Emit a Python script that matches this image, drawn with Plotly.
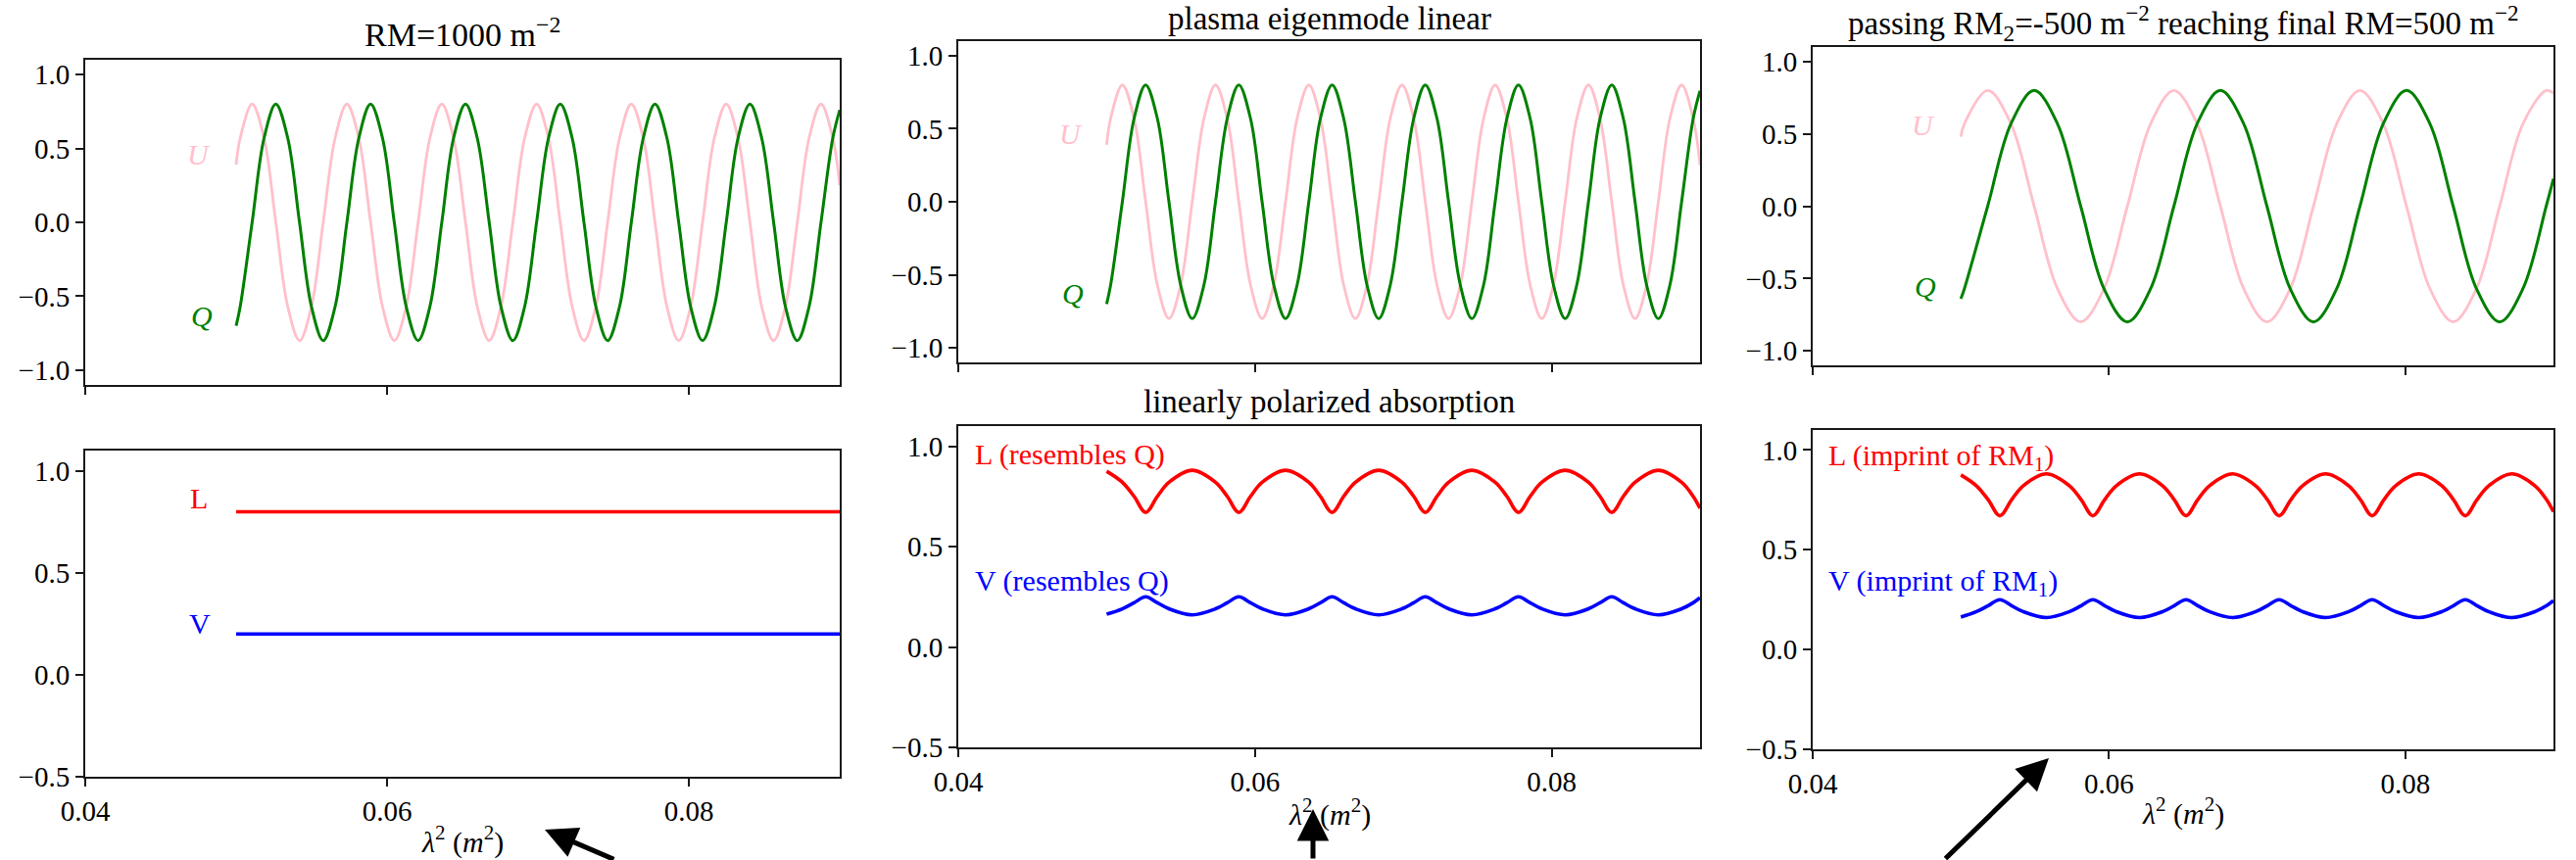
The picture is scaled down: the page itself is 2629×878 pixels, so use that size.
import plotly.graph_objects as go

# ---------------- data ----------------
# top panels, RM = 1000 (left and middle columns)
X_QU_RM1000 = [0.05, 0.05027,
               0.05106, 0.05185, 0.05263, 0.05342, 0.05420, 0.05499, 0.05577, 0.05656,
               0.05734, 0.05813, 0.05891, 0.05970, 0.06048, 0.06127, 0.06206, 0.06284,
               0.06363, 0.06441, 0.06520, 0.06598, 0.06677, 0.06755, 0.06834, 0.06912,
               0.06991, 0.07070, 0.07148, 0.07227, 0.07305, 0.07384, 0.07462, 0.07541,
               0.07619, 0.07698, 0.07776, 0.07855, 0.07933, 0.08012, 0.08091, 0.08169,
               0.08248, 0.08326, 0.08405, 0.08483, 0.08562, 0.08640, 0.08719, 0.08797,
               0.08876, 0.08954, 0.09]
Q_RM1000 = [-0.70, -0.57,
            0.0, 0.57, 0.80, 0.57, 0.0, -0.57, -0.80, -0.57,
            0.0, 0.57, 0.80, 0.57, 0.0, -0.57, -0.80, -0.57,
            0.0, 0.57, 0.80, 0.57, 0.0, -0.57, -0.80, -0.57,
            0.0, 0.57, 0.80, 0.57, 0.0, -0.57, -0.80, -0.57,
            0.0, 0.57, 0.80, 0.57, 0.0, -0.57, -0.80, -0.57,
            0.0, 0.57, 0.80, 0.57, 0.0, -0.57, -0.80, -0.57,
            0.0, 0.57, 0.76]
U_RM1000 = [0.39, 0.57,
            0.80, 0.57, 0.0, -0.57, -0.80, -0.57, 0.0, 0.57,
            0.80, 0.57, 0.0, -0.57, -0.80, -0.57, 0.0, 0.57,
            0.80, 0.57, 0.0, -0.57, -0.80, -0.57, 0.0, 0.57,
            0.80, 0.57, 0.0, -0.57, -0.80, -0.57, 0.0, 0.57,
            0.80, 0.57, 0.0, -0.57, -0.80, -0.57, 0.0, 0.57,
            0.80, 0.57, 0.0, -0.57, -0.80, -0.57, 0.0, 0.57,
            0.80, 0.57, 0.25]

# top panel, right column (final RM = 500)
X_QU_RM500 = [0.05, 0.05024,
              0.05181, 0.05338, 0.05495, 0.05652, 0.05809, 0.05966, 0.06124, 0.06281,
              0.06438, 0.06595, 0.06752, 0.06909, 0.07066, 0.07223, 0.07380, 0.07537,
              0.07694, 0.07851, 0.08008, 0.08166, 0.08323, 0.08480, 0.08637, 0.08794,
              0.08951, 0.09]
Q_RM500 = [-0.64, -0.57,
           0.0, 0.57, 0.80, 0.57, 0.0, -0.57, -0.80, -0.57,
           0.0, 0.57, 0.80, 0.57, 0.0, -0.57, -0.80, -0.57,
           0.0, 0.57, 0.80, 0.57, 0.0, -0.57, -0.80, -0.57,
           0.0, 0.19]
U_RM500 = [0.48, 0.57,
           0.80, 0.57, 0.0, -0.57, -0.80, -0.57, 0.0, 0.57,
           0.80, 0.57, 0.0, -0.57, -0.80, -0.57, 0.0, 0.57,
           0.80, 0.57, 0.0, -0.57, -0.80, -0.57, 0.0, 0.57,
           0.80, 0.78]

# bottom-left panel: constant L and V
X_LV_FLAT = [0.05, 0.09]
L_FLAT = [0.80, 0.80]
V_FLAT = [0.20, 0.20]

# bottom middle / right panels: modulated L and V
X_LV_WAVE = [0.05,
             0.05106, 0.05185, 0.05263, 0.05342, 0.05420, 0.05577,
             0.05734, 0.05813, 0.05891, 0.05970, 0.06048, 0.06206,
             0.06363, 0.06441, 0.06520, 0.06598, 0.06677, 0.06834,
             0.06991, 0.07070, 0.07148, 0.07227, 0.07305, 0.07462,
             0.07619, 0.07698, 0.07776, 0.07855, 0.07933, 0.08091,
             0.08248, 0.08326, 0.08405, 0.08483, 0.08562, 0.08719,
             0.08876, 0.08954, 0.09]
L_WAVE = [0.875,
          0.82, 0.75, 0.67, 0.75, 0.82, 0.88,
          0.82, 0.75, 0.67, 0.75, 0.82, 0.88,
          0.82, 0.75, 0.67, 0.75, 0.82, 0.88,
          0.82, 0.75, 0.67, 0.75, 0.82, 0.88,
          0.82, 0.75, 0.67, 0.75, 0.82, 0.88,
          0.82, 0.75, 0.67, 0.75, 0.82, 0.88,
          0.82, 0.75, 0.69]
V_WAVE = [0.163,
          0.19, 0.22, 0.25, 0.22, 0.19, 0.16,
          0.19, 0.22, 0.25, 0.22, 0.19, 0.16,
          0.19, 0.22, 0.25, 0.22, 0.19, 0.16,
          0.19, 0.22, 0.25, 0.22, 0.19, 0.16,
          0.19, 0.22, 0.25, 0.22, 0.19, 0.16,
          0.19, 0.22, 0.25, 0.22, 0.19, 0.16,
          0.19, 0.22, 0.245]

X_RANGE = [0.04, 0.09]
X_TICKS = [0.04, 0.06, 0.08]
X_TICK_LABELS = ["0.04", "0.06", "0.08"]
Y_RANGE_TOP = [-1.1, 1.1]
Y_TICKS_TOP = [-1.0, -0.5, 0.0, 0.5, 1.0]
Y_TICK_LABELS_TOP = ["\u22121.0", "\u22120.5", "0.0", "0.5", "1.0"]
Y_RANGE_BOT = [-0.5, 1.1]
Y_TICKS_BOT = [-0.5, 0.0, 0.5, 1.0]
Y_TICK_LABELS_BOT = ["\u22120.5", "0.0", "0.5", "1.0"]

# ---------------- styling ----------------
W, H = 2629, 878
FONT = "Liberation Serif, Times New Roman, serif"
TICK_SIZE = 29
TEXT_SIZE = 30
TITLE_SIZE = 33
C_Q, C_U, C_L, C_V = "#008000", "#FFC0CB", "#FF0000", "#0000FF"


def px_x(p):
    return p / W


def px_y(p):
    return 1 - p / H


# axes boxes in pixels: (left, right, top, bottom)
BOXES = {
    1: (87, 857, 61, 393),
    2: (87, 857, 460, 793),
    3: (978, 1735, 42, 370),
    4: (978, 1735, 435, 763),
    5: (1850, 2606, 48, 373),
    6: (1850, 2606, 439, 765),
}

fig = go.Figure()


def add_line(n, x, y, color, width):
    fig.add_trace(go.Scatter(
        x=x, y=y, mode="lines",
        line=dict(color=color, width=width, shape="spline", smoothing=1.0),
        xaxis="x" if n == 1 else f"x{n}",
        yaxis="y" if n == 1 else f"y{n}",
        showlegend=False, hoverinfo="skip"))


add_line(1, X_QU_RM1000, U_RM1000, C_U, 2.8)
add_line(1, X_QU_RM1000, Q_RM1000, C_Q, 3.0)
add_line(2, X_LV_FLAT, L_FLAT, C_L, 3.6)
add_line(2, X_LV_FLAT, V_FLAT, C_V, 3.6)
add_line(3, X_QU_RM1000, U_RM1000, C_U, 2.8)
add_line(3, X_QU_RM1000, Q_RM1000, C_Q, 3.0)
add_line(4, X_LV_WAVE, L_WAVE, C_L, 3.6)
add_line(4, X_LV_WAVE, V_WAVE, C_V, 3.6)
add_line(5, X_QU_RM500, U_RM500, C_U, 2.8)
add_line(5, X_QU_RM500, Q_RM500, C_Q, 3.0)
add_line(6, X_LV_WAVE, L_WAVE, C_L, 3.6)
add_line(6, X_LV_WAVE, V_WAVE, C_V, 3.6)

layout = dict(
    width=W, height=H,
    margin=dict(l=0, r=0, t=0, b=0, pad=0, autoexpand=False),
    paper_bgcolor="white", plot_bgcolor="white",
    font=dict(family=FONT, color="black"),
    showlegend=False,
)

AX_COMMON = dict(showline=True, mirror=True, linecolor="#1a1a1a", linewidth=2,
                 ticks="outside", ticklen=8, tickwidth=2, tickcolor="#1a1a1a",
                 showgrid=False, zeroline=False, automargin=False,
                 tickfont=dict(family=FONT, size=TICK_SIZE, color="black"))

for n, (l, r, t, b) in BOXES.items():
    xa = "xaxis" if n == 1 else f"xaxis{n}"
    ya = "yaxis" if n == 1 else f"yaxis{n}"
    top = n in (1, 3, 5)
    layout[xa] = dict(AX_COMMON, domain=[px_x(l), px_x(r)], range=X_RANGE,
                      tickvals=X_TICKS, ticktext=X_TICK_LABELS,
                      showticklabels=not top,
                      anchor="y" if n == 1 else f"y{n}")
    layout[ya] = dict(AX_COMMON, domain=[px_y(b), px_y(t)],
                      range=Y_RANGE_TOP if top else Y_RANGE_BOT,
                      tickvals=Y_TICKS_TOP if top else Y_TICKS_BOT,
                      ticktext=Y_TICK_LABELS_TOP if top else Y_TICK_LABELS_BOT,
                      anchor="x" if n == 1 else f"x{n}")

fig.update_layout(**layout)

ann = []


def data_text(n, x, y, text, color, xanchor="center"):
    ann.append(dict(x=x, y=y, xref="x" if n == 1 else f"x{n}",
                    yref="y" if n == 1 else f"y{n}", text=text, showarrow=False,
                    xanchor=xanchor, yanchor="middle",
                    font=dict(family=FONT, size=TEXT_SIZE, color=color)))


def paper_text(xp, yp, text, size):
    ann.append(dict(x=px_x(xp), y=px_y(yp), xref="paper", yref="paper", text=text,
                    showarrow=False, xanchor="center", yanchor="middle",
                    font=dict(family=FONT, size=size, color="black")))


# curve labels
data_text(1, 0.0475, 0.46, "<i>U</i>", C_U)
data_text(1, 0.0477, -0.63, "<i>Q</i>", C_Q)
data_text(2, 0.0475, 0.865, "L", C_L)
data_text(2, 0.0476, 0.25, "V", C_V)
data_text(3, 0.0476, 0.463, "<i>U</i>", C_U)
data_text(3, 0.0477, -0.63, "<i>Q</i>", C_Q)
data_text(4, 0.0410, 0.958, "L (resembles Q)", C_L, "left")
data_text(4, 0.0410, 0.33, "V (resembles Q)", C_V, "left")
data_text(5, 0.0475, 0.56, "<i>U</i>", C_U)
data_text(5, 0.0476, -0.554, "<i>Q</i>", C_Q)
data_text(6, 0.0409, 0.965, "L (imprint of RM<sub>1</sub>)", C_L, "left")
data_text(6, 0.0409, 0.335, "V (imprint of RM<sub>1</sub>)", C_V, "left")

# titles
paper_text(472, 33, "RM=1000 m<sup>\u22122</sup>", TITLE_SIZE + 1)
paper_text(1356.5, 19, "plasma eigenmode linear", TITLE_SIZE)
paper_text(1356.5, 410, "linearly polarized absorption", TITLE_SIZE)
paper_text(2228, 23.5, "passing RM<sub>2</sub>=-500 m<sup>\u22122</sup> reaching final RM=500 m<sup>\u22122</sup>", TITLE_SIZE)

# x-axis labels
XLAB = "<i>\u03bb</i><sup>2</sup> (<i>m</i><sup>2</sup>)"
paper_text(472, 857, XLAB, TEXT_SIZE)
paper_text(1356.5, 829, XLAB, TEXT_SIZE)
paper_text(2228, 828, XLAB, TEXT_SIZE)

# black arrows
for tip, tail in [((556, 847), (628, 884)), ((1340, 826), (1340, 884)), ((2091, 774), (1984, 884))]:
    ann.append(dict(x=px_x(tip[0]), y=px_y(tip[1]), xref="paper", yref="paper",
                    ax=tail[0] - tip[0], ay=tail[1] - tip[1], axref="pixel", ayref="pixel",
                    text="", showarrow=True, arrowhead=2, arrowsize=1.3, arrowwidth=5,
                    arrowcolor="black"))

fig.update_layout(annotations=ann)
# remove the browser's default 8 px page margin so the figure fills the window exactly
fig.write_html("out.html", config={"displayModeBar": False},
               post_script="document.body.style.margin='0px';")
